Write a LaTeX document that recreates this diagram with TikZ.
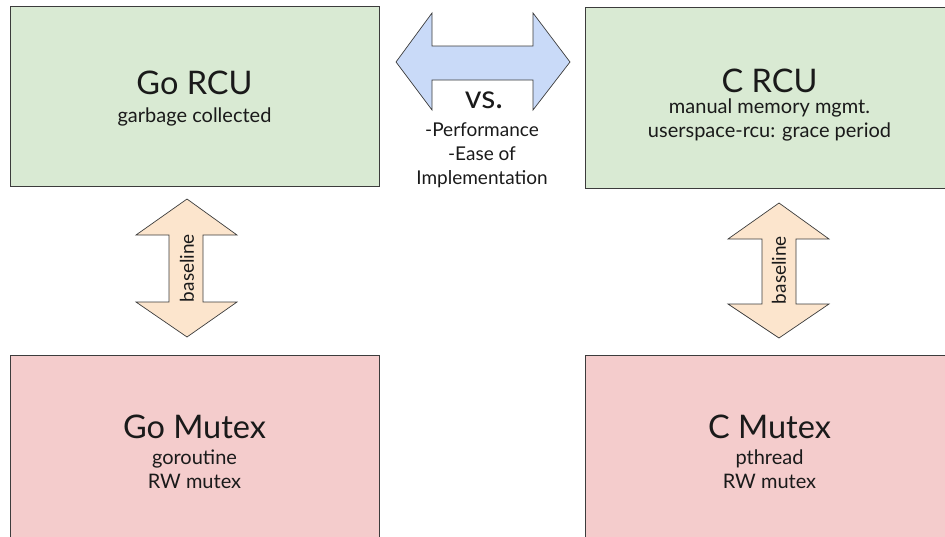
\documentclass[tikz,border=0pt]{standalone}
\usepackage{fontspec}
\setmainfont{Lato}
\definecolor{boxgreen}{HTML}{D9EAD3}
\definecolor{boxred}{HTML}{F4CCCC}
\definecolor{arrblue}{HTML}{C9DAF8}
\definecolor{arrorange}{HTML}{FCE5CD}
\definecolor{edge}{HTML}{3C3C3C}
\definecolor{txt}{HTML}{1A1A1A}
\tikzset{
  panel/.style={draw=edge, line width=0.9pt, minimum width=369pt, inner sep=0pt},
  titletext/.style={text=txt, font=\fontsize{32.5}{38}\selectfont, inner sep=0pt},
  subtext/.style={text=txt, font=\fontsize{20}{24}\selectfont, align=center, inner sep=0pt},
  arrowtext/.style={text=txt, font=\fontsize{19}{24}\selectfont, align=center, inner sep=0pt},
  arrowshape/.style={draw=edge, line width=0.7pt, line join=miter},
}
\begin{document}
\begin{tikzpicture}[x=1pt,y=-1pt]
\useasboundingbox (0,0) rectangle (945,536);
% boxes
\node[panel, fill=boxgreen, minimum height=180pt] (gorcu) at (194.5,96) {};
\node[panel, fill=boxgreen, minimum height=181pt] (crcu) at (769.5,97.5) {};
\node[panel, fill=boxred, minimum height=190pt] (gomutex) at (194.5,450) {};
\node[panel, fill=boxred, minimum height=190pt] (cmutex) at (769.5,450) {};
% texts
\node[titletext] (gorcuT) at (194.5,83) {Go RCU};
\node[subtext] (gorcuS) at (194.5,117) {garbage collected};
\node[titletext] (crcuT) at (769.5,81) {C RCU};
\node[subtext] (crcuS) at (769.5,120) {manual memory mgmt.\\userspace-rcu: grace period};
\node[titletext] (gomutexT) at (194.5,427) {Go Mutex};
\node[subtext] (gomutexS) at (194.5,469) {goroutine\\RW mutex};
\node[titletext] (cmutexT) at (769.5,427) {C Mutex};
\node[subtext] (cmutexS) at (769.5,469) {pthread\\RW mutex};
% blue double arrow
\filldraw[arrowshape, fill=arrblue] (396,62) -- (432,13) -- (432,46) -- (533,46) -- (533,13)
  -- (570,62) -- (533,110) -- (533,80) -- (432,80) -- (432,110) -- cycle;
\node[titletext] (vs) at (484,100) {vs.};
\node[arrowtext] (crit) at (482,155) {-Performance\\-Ease of\\Implementation};
% left baseline arrow
\filldraw[arrowshape, fill=arrorange] (187,199) -- (237,235) -- (203,235) -- (203,302) -- (237,302)
  -- (187,337) -- (136,302) -- (169,302) -- (169,235) -- (136,235) -- cycle;
\node[arrowtext, rotate=90] (baseL) at (187,268) {baseline};
% right baseline arrow
\filldraw[arrowshape, fill=arrorange] (779,203) -- (829,239) -- (796,239) -- (796,304) -- (829,304)
  -- (779,338) -- (728,304) -- (762,304) -- (762,239) -- (728,239) -- cycle;
\node[arrowtext, rotate=90] (baseR) at (779,270) {baseline};
\end{tikzpicture}
\end{document}
